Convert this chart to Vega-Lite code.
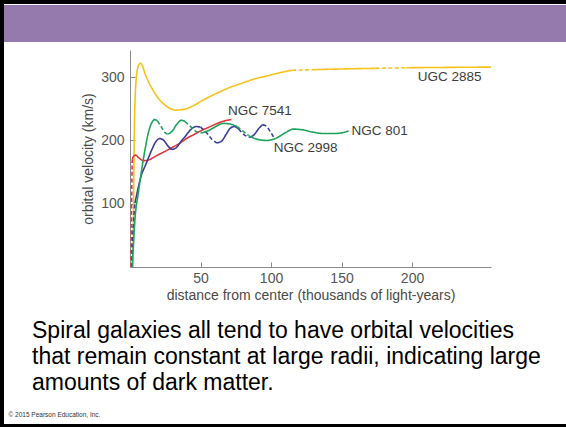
{
  "$schema": "https://vega.github.io/schema/vega-lite/v6.json",
  "width": 562,
  "height": 420,
  "autosize": {"type": "none"},
  "padding": {"left": 4, "top": 4, "right": 0, "bottom": 3},
  "background": "black",
  "config": {
    "view": {"fill": "white", "stroke": null},
    "font": "Liberation Sans",
    "axis": {"grid": false, "domainColor": "#8a8a8a", "tickColor": "#8a8a8a", "tickSize": -5, "labelFontSize": 14, "labelColor": "#555555",
      "titleFontSize": 14, "titleColor": "#4a4a4a", "titleFontWeight": "normal", "labelFont": "Liberation Sans", "titleFont": "Liberation Sans"}
  },
  "title": {
    "text": ["Spiral galaxies all tend to have orbital velocities", "that remain constant at large radii, indicating large", "amounts of dark matter."],
    "orient": "bottom", "anchor": "start", "frame": "group", "offset": -104, "dx": 28,
    "fontSize": 23, "fontWeight": "normal", "color": "black", "lineHeight": 26, "font": "Liberation Sans", "baseline": "top"
  },
  "datasets": {
    "header": [{"part": "header"}],
    "curves": [
      {"g": "UGC 2885", "s": "Y1", "d": "solid", "x": 2.2, "v": 0},
      {"g": "UGC 2885", "s": "Y1", "d": "solid", "x": 2.5, "v": 80},
      {"g": "UGC 2885", "s": "Y1", "d": "solid", "x": 2.8, "v": 160},
      {"g": "UGC 2885", "s": "Y1", "d": "solid", "x": 3.1, "v": 220},
      {"g": "UGC 2885", "s": "Y1", "d": "solid", "x": 3.6, "v": 265},
      {"g": "UGC 2885", "s": "Y1", "d": "solid", "x": 4.3, "v": 295},
      {"g": "UGC 2885", "s": "Y1", "d": "solid", "x": 5.2, "v": 312},
      {"g": "UGC 2885", "s": "Y1", "d": "solid", "x": 6.3, "v": 320},
      {"g": "UGC 2885", "s": "Y1", "d": "solid", "x": 7.5, "v": 322},
      {"g": "UGC 2885", "s": "Y1", "d": "solid", "x": 8.8, "v": 318},
      {"g": "UGC 2885", "s": "Y1", "d": "solid", "x": 10.6, "v": 306},
      {"g": "UGC 2885", "s": "Y1", "d": "solid", "x": 13, "v": 293},
      {"g": "UGC 2885", "s": "Y1", "d": "solid", "x": 15.4, "v": 283},
      {"g": "UGC 2885", "s": "Y1", "d": "solid", "x": 20, "v": 267},
      {"g": "UGC 2885", "s": "Y1", "d": "solid", "x": 24.8, "v": 256},
      {"g": "UGC 2885", "s": "Y1", "d": "solid", "x": 29, "v": 250},
      {"g": "UGC 2885", "s": "Y1", "d": "solid", "x": 33, "v": 248},
      {"g": "UGC 2885", "s": "Y1", "d": "solid", "x": 38, "v": 249},
      {"g": "UGC 2885", "s": "Y1", "d": "solid", "x": 45, "v": 255},
      {"g": "UGC 2885", "s": "Y1", "d": "solid", "x": 52, "v": 264},
      {"g": "UGC 2885", "s": "Y1", "d": "solid", "x": 60, "v": 273},
      {"g": "UGC 2885", "s": "Y1", "d": "solid", "x": 71, "v": 284},
      {"g": "UGC 2885", "s": "Y1", "d": "solid", "x": 80, "v": 291},
      {"g": "UGC 2885", "s": "Y1", "d": "solid", "x": 88, "v": 297},
      {"g": "UGC 2885", "s": "Y1", "d": "solid", "x": 97, "v": 302},
      {"g": "UGC 2885", "s": "Y1", "d": "solid", "x": 106, "v": 307},
      {"g": "UGC 2885", "s": "Y1", "d": "solid", "x": 115, "v": 311},
      {"g": "UGC 2885", "s": "Y2", "d": "dashed", "x": 115, "v": 311},
      {"g": "UGC 2885", "s": "Y2", "d": "dashed", "x": 123, "v": 311.5},
      {"g": "UGC 2885", "s": "Y2", "d": "dashed", "x": 132, "v": 312},
      {"g": "UGC 2885", "s": "Y3", "d": "solid", "x": 132, "v": 312},
      {"g": "UGC 2885", "s": "Y3", "d": "solid", "x": 150, "v": 313},
      {"g": "UGC 2885", "s": "Y3", "d": "solid", "x": 174, "v": 314},
      {"g": "UGC 2885", "s": "Y4", "d": "dashed", "x": 174, "v": 314},
      {"g": "UGC 2885", "s": "Y4", "d": "dashed", "x": 185, "v": 314.5},
      {"g": "UGC 2885", "s": "Y4", "d": "dashed", "x": 196, "v": 315},
      {"g": "UGC 2885", "s": "Y5", "d": "solid", "x": 196, "v": 315},
      {"g": "UGC 2885", "s": "Y5", "d": "solid", "x": 225, "v": 315.5},
      {"g": "UGC 2885", "s": "Y5", "d": "solid", "x": 256, "v": 316},

      {"g": "NGC 7541", "s": "R1", "d": "dashed", "x": 0.8, "v": 0},
      {"g": "NGC 7541", "s": "R1", "d": "dashed", "x": 1.1, "v": 90},
      {"g": "NGC 7541", "s": "R1", "d": "dashed", "x": 1.6, "v": 170},
      {"g": "NGC 7541", "s": "R2", "d": "solid", "x": 1.6, "v": 170},
      {"g": "NGC 7541", "s": "R2", "d": "solid", "x": 2.5, "v": 175},
      {"g": "NGC 7541", "s": "R2", "d": "solid", "x": 4, "v": 177},
      {"g": "NGC 7541", "s": "R2", "d": "solid", "x": 6, "v": 173},
      {"g": "NGC 7541", "s": "R2", "d": "solid", "x": 9.5, "v": 168},
      {"g": "NGC 7541", "s": "R2", "d": "solid", "x": 13, "v": 169},
      {"g": "NGC 7541", "s": "R2", "d": "solid", "x": 18, "v": 175},
      {"g": "NGC 7541", "s": "R2", "d": "solid", "x": 25, "v": 183},
      {"g": "NGC 7541", "s": "R2", "d": "solid", "x": 30, "v": 189},
      {"g": "NGC 7541", "s": "R2", "d": "solid", "x": 35.5, "v": 196},
      {"g": "NGC 7541", "s": "R2", "d": "solid", "x": 40, "v": 203},
      {"g": "NGC 7541", "s": "R2", "d": "solid", "x": 45, "v": 209},
      {"g": "NGC 7541", "s": "R2", "d": "solid", "x": 50, "v": 215},
      {"g": "NGC 7541", "s": "R2", "d": "solid", "x": 56, "v": 221},
      {"g": "NGC 7541", "s": "R2", "d": "solid", "x": 62, "v": 227},
      {"g": "NGC 7541", "s": "R2", "d": "solid", "x": 67, "v": 231},
      {"g": "NGC 7541", "s": "R2", "d": "solid", "x": 72, "v": 233},

      {"g": "NGC 2998", "s": "B1", "d": "dashed", "x": 1.2, "v": 0},
      {"g": "NGC 2998", "s": "B1", "d": "dashed", "x": 2, "v": 50},
      {"g": "NGC 2998", "s": "B1", "d": "dashed", "x": 3.5, "v": 101},
      {"g": "NGC 2998", "s": "B2", "d": "solid", "x": 3.5, "v": 101},
      {"g": "NGC 2998", "s": "B2", "d": "solid", "x": 6, "v": 127},
      {"g": "NGC 2998", "s": "B2", "d": "solid", "x": 8, "v": 145},
      {"g": "NGC 2998", "s": "B2", "d": "solid", "x": 10.6, "v": 159},
      {"g": "NGC 2998", "s": "B2", "d": "solid", "x": 13, "v": 172},
      {"g": "NGC 2998", "s": "B2", "d": "solid", "x": 15.4, "v": 185},
      {"g": "NGC 2998", "s": "B2", "d": "solid", "x": 18, "v": 197},
      {"g": "NGC 2998", "s": "B2", "d": "solid", "x": 21, "v": 203},
      {"g": "NGC 2998", "s": "B2", "d": "solid", "x": 24, "v": 200},
      {"g": "NGC 2998", "s": "B2", "d": "solid", "x": 27, "v": 191},
      {"g": "NGC 2998", "s": "B2", "d": "solid", "x": 30, "v": 186},
      {"g": "NGC 2998", "s": "B2", "d": "solid", "x": 33, "v": 189},
      {"g": "NGC 2998", "s": "B2", "d": "solid", "x": 36, "v": 198},
      {"g": "NGC 2998", "s": "B2", "d": "solid", "x": 39, "v": 206},
      {"g": "NGC 2998", "s": "B2", "d": "solid", "x": 43, "v": 217},
      {"g": "NGC 2998", "s": "B2", "d": "solid", "x": 47, "v": 222},
      {"g": "NGC 2998", "s": "B2", "d": "solid", "x": 50, "v": 221},
      {"g": "NGC 2998", "s": "B3", "d": "dashed", "x": 50, "v": 221},
      {"g": "NGC 2998", "s": "B3", "d": "dashed", "x": 54, "v": 213},
      {"g": "NGC 2998", "s": "B3", "d": "dashed", "x": 58, "v": 202},
      {"g": "NGC 2998", "s": "B3", "d": "dashed", "x": 61.5, "v": 196},
      {"g": "NGC 2998", "s": "B4", "d": "solid", "x": 61.5, "v": 196},
      {"g": "NGC 2998", "s": "B4", "d": "solid", "x": 65, "v": 199},
      {"g": "NGC 2998", "s": "B4", "d": "solid", "x": 68, "v": 209},
      {"g": "NGC 2998", "s": "B4", "d": "solid", "x": 71, "v": 219},
      {"g": "NGC 2998", "s": "B4", "d": "solid", "x": 74, "v": 222},
      {"g": "NGC 2998", "s": "B4", "d": "solid", "x": 77, "v": 218},
      {"g": "NGC 2998", "s": "B5", "d": "dashed", "x": 77, "v": 218},
      {"g": "NGC 2998", "s": "B5", "d": "dashed", "x": 81, "v": 209},
      {"g": "NGC 2998", "s": "B5", "d": "dashed", "x": 85, "v": 205},
      {"g": "NGC 2998", "s": "B6", "d": "solid", "x": 85, "v": 205},
      {"g": "NGC 2998", "s": "B6", "d": "solid", "x": 88, "v": 209},
      {"g": "NGC 2998", "s": "B6", "d": "solid", "x": 91, "v": 218},
      {"g": "NGC 2998", "s": "B6", "d": "solid", "x": 94, "v": 225},
      {"g": "NGC 2998", "s": "B7", "d": "dashed", "x": 94, "v": 225},
      {"g": "NGC 2998", "s": "B7", "d": "dashed", "x": 97, "v": 222},
      {"g": "NGC 2998", "s": "B7", "d": "dashed", "x": 99.5, "v": 214},
      {"g": "NGC 2998", "s": "B7", "d": "dashed", "x": 102, "v": 205},

      {"g": "NGC 801", "s": "G1", "d": "solid", "x": 1.5, "v": 0},
      {"g": "NGC 801", "s": "G1", "d": "solid", "x": 2.3, "v": 30},
      {"g": "NGC 801", "s": "G1", "d": "solid", "x": 3.5, "v": 75},
      {"g": "NGC 801", "s": "G1", "d": "solid", "x": 5.9, "v": 117},
      {"g": "NGC 801", "s": "G1", "d": "solid", "x": 8.3, "v": 154},
      {"g": "NGC 801", "s": "G1", "d": "solid", "x": 10.6, "v": 185},
      {"g": "NGC 801", "s": "G1", "d": "solid", "x": 13, "v": 212},
      {"g": "NGC 801", "s": "G1", "d": "solid", "x": 15, "v": 226},
      {"g": "NGC 801", "s": "G1", "d": "solid", "x": 17.5, "v": 233},
      {"g": "NGC 801", "s": "G1", "d": "solid", "x": 19.5, "v": 231},
      {"g": "NGC 801", "s": "G2", "d": "dashed", "x": 19.5, "v": 231},
      {"g": "NGC 801", "s": "G2", "d": "dashed", "x": 22, "v": 222},
      {"g": "NGC 801", "s": "G2", "d": "dashed", "x": 25, "v": 212},
      {"g": "NGC 801", "s": "G2", "d": "dashed", "x": 27, "v": 210},
      {"g": "NGC 801", "s": "G3", "d": "solid", "x": 27, "v": 210},
      {"g": "NGC 801", "s": "G3", "d": "solid", "x": 30, "v": 215},
      {"g": "NGC 801", "s": "G3", "d": "solid", "x": 33, "v": 225},
      {"g": "NGC 801", "s": "G3", "d": "solid", "x": 36.5, "v": 232},
      {"g": "NGC 801", "s": "G3", "d": "solid", "x": 39, "v": 230},
      {"g": "NGC 801", "s": "G4", "d": "dashed", "x": 39, "v": 230},
      {"g": "NGC 801", "s": "G4", "d": "dashed", "x": 43, "v": 222},
      {"g": "NGC 801", "s": "G4", "d": "dashed", "x": 47, "v": 214},
      {"g": "NGC 801", "s": "G4", "d": "dashed", "x": 50.5, "v": 212},
      {"g": "NGC 801", "s": "G5", "d": "solid", "x": 50.5, "v": 212},
      {"g": "NGC 801", "s": "G5", "d": "solid", "x": 55, "v": 215},
      {"g": "NGC 801", "s": "G5", "d": "solid", "x": 60, "v": 221},
      {"g": "NGC 801", "s": "G5", "d": "solid", "x": 66, "v": 227},
      {"g": "NGC 801", "s": "G5", "d": "solid", "x": 71, "v": 226},
      {"g": "NGC 801", "s": "G5", "d": "solid", "x": 76, "v": 222},
      {"g": "NGC 801", "s": "G6", "d": "dashed", "x": 76, "v": 222},
      {"g": "NGC 801", "s": "G6", "d": "dashed", "x": 80, "v": 215},
      {"g": "NGC 801", "s": "G6", "d": "dashed", "x": 84, "v": 208},
      {"g": "NGC 801", "s": "G7", "d": "solid", "x": 84, "v": 208},
      {"g": "NGC 801", "s": "G7", "d": "solid", "x": 90, "v": 202},
      {"g": "NGC 801", "s": "G7", "d": "solid", "x": 97, "v": 200},
      {"g": "NGC 801", "s": "G7", "d": "solid", "x": 104, "v": 204},
      {"g": "NGC 801", "s": "G7", "d": "solid", "x": 110, "v": 212},
      {"g": "NGC 801", "s": "G7", "d": "solid", "x": 116, "v": 218},
      {"g": "NGC 801", "s": "G7", "d": "solid", "x": 122, "v": 217},
      {"g": "NGC 801", "s": "G7", "d": "solid", "x": 130, "v": 213},
      {"g": "NGC 801", "s": "G7", "d": "solid", "x": 137, "v": 211},
      {"g": "NGC 801", "s": "G7", "d": "solid", "x": 145, "v": 211},
      {"g": "NGC 801", "s": "G7", "d": "solid", "x": 150, "v": 212},
      {"g": "NGC 801", "s": "G7", "d": "solid", "x": 155, "v": 215}
    ],
    "labels": [
      {"g": "UGC 2885", "x": 204, "v": 300},
      {"g": "NGC 7541", "x": 69.5, "v": 246},
      {"g": "NGC 2998", "x": 102, "v": 188},
      {"g": "NGC 801", "x": 157, "v": 215}
    ]
  },
  "layer": [
    {
      "data": {"name": "header"},
      "mark": {"type": "rect", "color": "#957aad"},
      "encoding": {
        "x": {"datum": 0, "type": "quantitative", "scale": {"domain": [0, 1], "range": [0, 562], "nice": false, "zero": false},
          "axis": {"orient": "bottom", "offset": -13, "labels": false, "ticks": false, "domain": false,
            "title": "© 2015 Pearson Education, Inc.", "titleAnchor": "start", "titleAlign": "left", "titleX": 4, "titlePadding": 0,
            "titleFontSize": 6.5, "titleColor": "#333333", "titleBaseline": "top"}},
        "x2": {"datum": 1},
        "y": {"datum": 0, "type": "quantitative", "scale": {"domain": [0, 1], "range": [1, 38], "nice": false, "zero": false}, "axis": null},
        "y2": {"datum": 1}
      }
    },
    {
      "layer": [
        {
          "data": {"name": "curves"},
          "mark": {"type": "line", "interpolate": "monotone", "strokeWidth": 1.6},
          "encoding": {
            "x": {"field": "x", "type": "quantitative",
              "scale": {"domain": [0, 256], "range": [126, 487], "nice": false, "zero": false},
              "axis": {"orient": "bottom", "offset": -157, "values": [50, 100, 150, 200], "labelPadding": 9,
                "title": "distance from center (thousands of light-years)", "titlePadding": 3}},
            "y": {"field": "v", "type": "quantitative",
              "scale": {"domain": [0, 343], "range": [263, 46], "nice": false, "zero": false},
              "axis": {"orient": "left", "offset": -126, "values": [100, 200, 300], "labelPadding": 11,
                "title": "orbital velocity (km/s)", "titlePadding": 5}},
            "detail": {"field": "s"},
            "color": {"field": "g", "type": "nominal", "legend": null,
              "scale": {"domain": ["UGC 2885", "NGC 7541", "NGC 2998", "NGC 801"], "range": ["#f6c21c", "#e5363a", "#3b3d96", "#1ea35c"]}},
            "strokeDash": {"field": "d", "type": "nominal", "legend": null,
              "scale": {"domain": ["solid", "dashed"], "range": [[1, 0], [4, 2.5]]}}
          }
        },
        {
          "data": {"name": "labels"},
          "mark": {"type": "text", "align": "left", "baseline": "middle", "fontSize": 13.5, "color": "#3d3d3d", "font": "Liberation Sans"},
          "encoding": {
            "x": {"field": "x", "type": "quantitative"},
            "y": {"field": "v", "type": "quantitative"},
            "text": {"field": "g"}
          }
        }
      ]
    }
  ],
  "resolve": {"scale": {"x": "independent", "y": "independent"}, "axis": {"x": "independent", "y": "independent"}}
}
